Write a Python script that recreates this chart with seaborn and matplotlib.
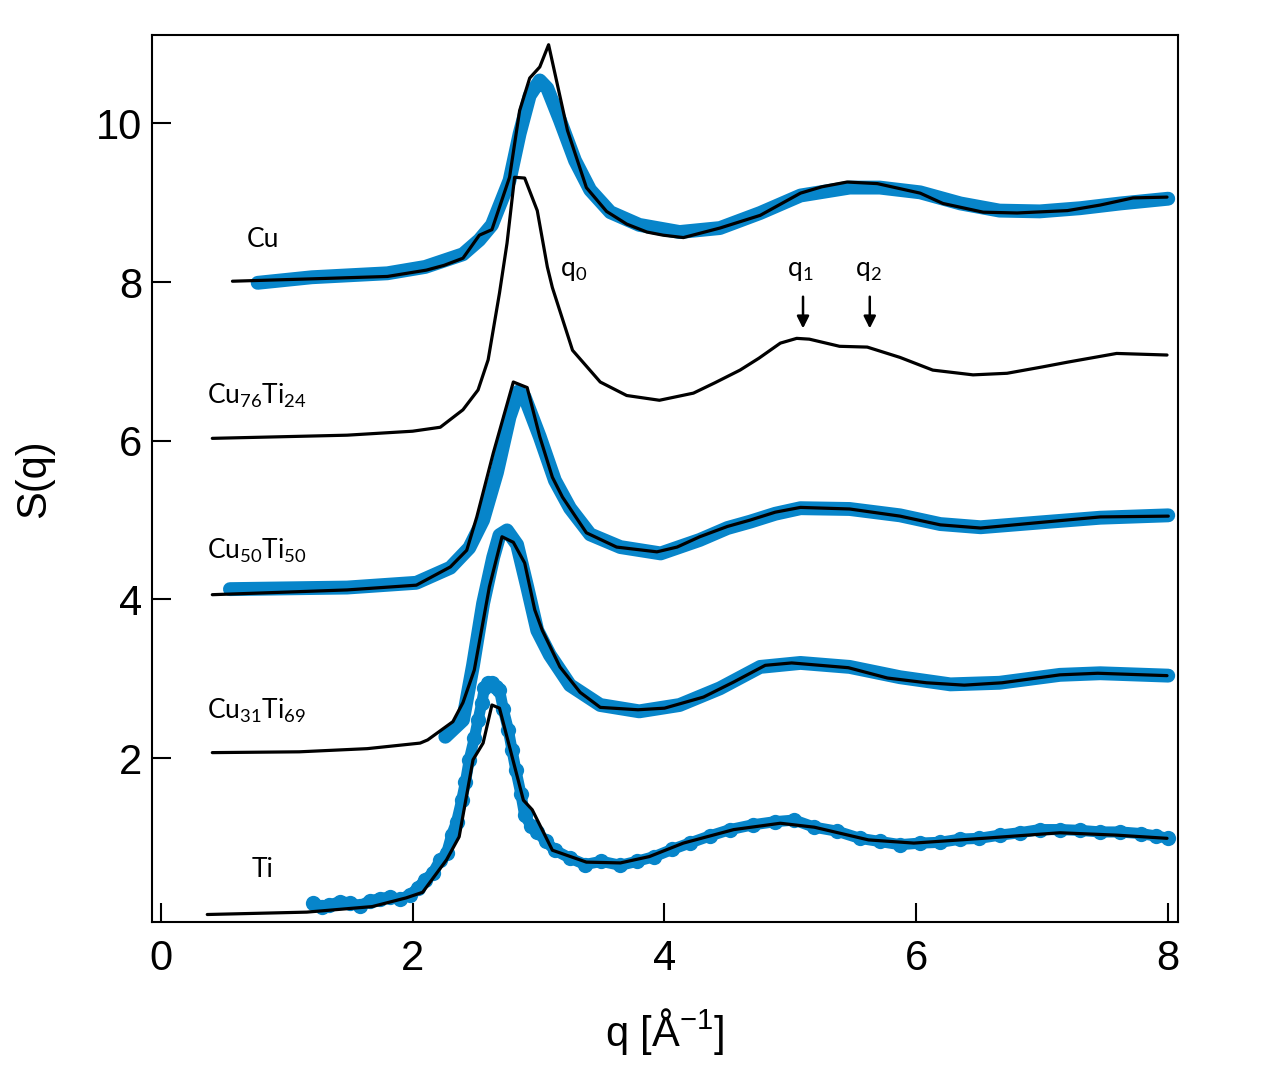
import numpy as np
import pandas as pd
import seaborn as sns
import matplotlib.pyplot as plt

# ---- model curves (black lines) ----
cu_fit_q = [0.57, 1.20, 1.80, 2.11, 2.25, 2.40, 2.53, 2.63, 2.77, 2.85, 2.93, 3.01, 3.08, 3.23, 3.38, 3.54,
            3.70, 3.86, 3.99, 4.15, 4.44, 4.76, 5.08, 5.25, 5.45, 5.69, 6.03, 6.21, 6.53, 6.80, 7.20,
            7.46, 7.72, 7.99]
cu_fit_s = [8.01, 8.04, 8.07, 8.15, 8.21, 8.30, 8.59, 8.66, 9.32, 10.16, 10.57, 10.71, 10.99, 9.91, 9.19,
            8.89, 8.73, 8.63, 8.59, 8.56, 8.68, 8.84, 9.12, 9.20, 9.26, 9.24, 9.12, 8.99, 8.88, 8.87,
            8.90, 8.97, 9.06, 9.07]

cu76_fit_q = [0.41, 0.95, 1.48, 2.00, 2.22, 2.40, 2.52, 2.60, 2.69, 2.75, 2.81, 2.89, 2.99, 3.07, 3.11,
              3.27, 3.49, 3.70, 3.96, 4.23, 4.40, 4.60, 4.75, 4.92, 5.05, 5.15, 5.39, 5.61, 5.87, 6.13,
              6.45, 6.72, 7.00, 7.20, 7.59, 7.99]
cu76_fit_s = [6.03, 6.05, 6.07, 6.12, 6.17, 6.39, 6.64, 7.02, 7.86, 8.49, 9.32, 9.31, 8.90, 8.19, 7.93,
              7.14, 6.74, 6.57, 6.51, 6.60, 6.73, 6.89, 7.04, 7.23, 7.29, 7.28, 7.19, 7.18, 7.05, 6.89,
              6.83, 6.85, 6.93, 6.99, 7.10, 7.08]

cu50_fit_q = [0.41, 0.95, 1.48, 2.03, 2.30, 2.43, 2.51, 2.64, 2.80, 2.91, 3.01, 3.11, 3.19, 3.38, 3.62,
              3.94, 4.10, 4.28, 4.50, 4.68, 4.88, 5.08, 5.47, 5.87, 6.19, 6.51, 6.98, 7.46, 8.00]
cu50_fit_s = [4.06, 4.09, 4.12, 4.18, 4.41, 4.62, 5.04, 5.84, 6.74, 6.67, 6.05, 5.54, 5.29, 4.84, 4.66,
              4.60, 4.66, 4.79, 4.92, 5.00, 5.10, 5.16, 5.14, 5.05, 4.94, 4.90, 4.97, 5.04, 5.05]

cu31_fit_q = [0.41, 1.10, 1.64, 2.06, 2.12, 2.32, 2.40, 2.49, 2.61, 2.71, 2.80, 2.89, 2.97, 3.03, 3.17,
              3.33, 3.49, 3.79, 4.00, 4.31, 4.55, 4.80, 5.01, 5.46, 5.77, 6.08, 6.38, 6.68, 7.14, 7.44, 7.99]
cu31_fit_s = [2.07, 2.08, 2.12, 2.19, 2.23, 2.46, 2.70, 3.11, 4.16, 4.79, 4.72, 4.46, 3.87, 3.61, 3.15,
              2.83, 2.64, 2.61, 2.63, 2.77, 2.96, 3.17, 3.20, 3.14, 3.01, 2.95, 2.92, 2.95, 3.05, 3.07, 3.04]

ti_fit_q = [0.37, 1.16, 1.68, 1.95, 2.08, 2.27, 2.37, 2.48, 2.56, 2.63, 2.69, 2.88, 2.95, 3.11, 3.38,
            3.65, 3.88, 4.15, 4.55, 4.92, 5.19, 5.62, 5.98, 6.53, 7.14, 7.59, 7.99]
ti_fit_s = [0.03, 0.06, 0.13, 0.24, 0.31, 0.72, 1.01, 1.98, 2.19, 2.67, 2.63, 1.47, 1.35, 0.84, 0.69,
            0.68, 0.76, 0.93, 1.10, 1.18, 1.13, 0.97, 0.93, 0.99, 1.06, 1.03, 0.99]

# ---- measured data (blue) ----
cu_exp_q = [0.77, 1.20, 1.80, 2.10, 2.40, 2.53, 2.63, 2.77, 2.85, 2.93, 3.01, 3.07, 3.17, 3.29, 3.41,
            3.57, 3.80, 4.12, 4.44, 4.76, 5.08, 5.47, 5.71, 6.03, 6.35, 6.66, 6.98, 7.30, 7.62, 8.00]
cu_exp_s = [7.99, 8.06, 8.11, 8.19, 8.35, 8.53, 8.72, 9.28, 9.87, 10.35, 10.54, 10.44, 10.04, 9.53, 9.16,
            8.88, 8.72, 8.63, 8.68, 8.87, 9.09, 9.19, 9.19, 9.13, 8.99, 8.90, 8.89, 8.93, 8.99, 9.05]

cu50_exp_q = [0.55, 1.48, 2.03, 2.30, 2.45, 2.56, 2.67, 2.77, 2.84, 2.89, 3.01, 3.13, 3.25, 3.41, 3.65,
              3.97, 4.28, 4.50, 4.68, 4.88, 5.08, 5.47, 5.87, 6.19, 6.51, 6.98, 7.46, 8.00]
cu50_exp_s = [4.13, 4.15, 4.21, 4.40, 4.65, 5.00, 5.60, 6.30, 6.62, 6.55, 6.05, 5.50, 5.15, 4.82, 4.66,
              4.58, 4.75, 4.90, 4.98, 5.08, 5.15, 5.14, 5.06, 4.95, 4.91, 4.97, 5.03, 5.06]

cu31_exp_q = [2.26, 2.40, 2.48, 2.56, 2.64, 2.69, 2.75, 2.83, 2.91, 2.99, 3.09, 3.25, 3.49, 3.80, 4.12,
              4.44, 4.76, 5.08, 5.47, 5.87, 6.27, 6.66, 7.14, 7.46, 8.00]
cu31_exp_s = [2.27, 2.48, 3.17, 3.95, 4.53, 4.81, 4.87, 4.69, 4.16, 3.61, 3.30, 2.92, 2.67, 2.59, 2.67,
              2.88, 3.15, 3.20, 3.15, 3.02, 2.93, 2.95, 3.05, 3.07, 3.04]

ti_exp_q = [1.21, 1.28, 1.34, 1.42, 1.50, 1.58, 1.66, 1.74, 1.82, 1.90, 1.98, 2.04, 2.10, 2.16, 2.22,
            2.27, 2.31, 2.35, 2.39, 2.42, 2.45, 2.49, 2.52, 2.55, 2.57, 2.60, 2.63, 2.66, 2.69, 2.72,
            2.76, 2.79, 2.82, 2.86, 2.89, 2.94, 2.99, 3.06, 3.13, 3.25, 3.37, 3.50, 3.65, 3.78, 3.92,
            4.06, 4.20, 4.36, 4.52, 4.70, 4.88, 5.03, 5.19, 5.37, 5.55, 5.71, 5.87, 6.03, 6.19, 6.35,
            6.50, 6.66, 6.82, 6.98, 7.14, 7.30, 7.46, 7.62, 7.78, 7.90, 8.00]
ti_exp_s = [0.18, 0.13, 0.15, 0.19, 0.18, 0.14, 0.20, 0.23, 0.25, 0.22, 0.28, 0.36, 0.47, 0.55, 0.72,
            0.80, 1.03, 1.20, 1.47, 1.70, 1.98, 2.25, 2.48, 2.70, 2.88, 2.95, 2.95, 2.90, 2.86, 2.62,
            2.36, 2.10, 1.85, 1.55, 1.28, 1.15, 1.07, 0.95, 0.84, 0.74, 0.66, 0.70, 0.65, 0.70, 0.76,
            0.85, 0.93, 1.02, 1.10, 1.16, 1.20, 1.22, 1.13, 1.08, 0.99, 0.95, 0.91, 0.93, 0.94, 0.98,
            0.99, 1.03, 1.06, 1.10, 1.10, 1.09, 1.07, 1.07, 1.05, 1.02, 0.99]

labels = ['Cu', r'Cu$_{76}$Ti$_{24}$', r'Cu$_{50}$Ti$_{50}$', r'Cu$_{31}$Ti$_{69}$', 'Ti']
label_pos = [(0.81, 8.54, 'center'), (0.365, 6.57, 'left'), (0.365, 4.61, 'left'),
             (0.365, 2.6, 'left'), (0.81, 0.6, 'center')]

blue = '#0785CA'

sns.set_theme(style='white')
plt.rcParams['font.family'] = ['Liberation Sans', 'DejaVu Sans']
plt.rcParams['mathtext.fontset'] = 'custom'
plt.rcParams['mathtext.rm'] = 'Lato'
plt.rcParams['text.color'] = 'black'
plt.rcParams['axes.labelcolor'] = 'black'

f = plt.figure(figsize=(12.75, 10.67), dpi=100)
ax = f.add_axes([0.119, 0.136, 0.805, 0.831])

for q, s in [(cu_exp_q, cu_exp_s), (cu50_exp_q, cu50_exp_s), (cu31_exp_q, cu31_exp_s)]:
    sns.lineplot(x=q, y=s, ax=ax, color=blue, linewidth=10, sort=False, estimator=None,
                 solid_capstyle='round', solid_joinstyle='round')
sns.lineplot(x=ti_exp_q, y=ti_exp_s, ax=ax, color=blue, linewidth=8, sort=False, estimator=None,
             marker='o', markersize=11, markeredgewidth=0, solid_capstyle='round',
             solid_joinstyle='round')

for q, s in [(cu_fit_q, cu_fit_s), (cu76_fit_q, cu76_fit_s), (cu50_fit_q, cu50_fit_s),
             (cu31_fit_q, cu31_fit_s), (ti_fit_q, ti_fit_s)]:
    sns.lineplot(x=q, y=s, ax=ax, color='black', linewidth=2.3, sort=False, estimator=None,
                 solid_joinstyle='round')

for lab, (x, y, ha) in zip(labels, label_pos):
    ax.text(x, y, lab, ha=ha, va='center', fontsize=19, family='Lato')

ax.text(3.17, 8.15, r'q$_0$', ha='left', va='center', fontsize=19, family='Lato')
ax.text(5.08, 8.15, r'q$_1$', ha='center', va='center', fontsize=19, family='Lato')
ax.text(5.62, 8.15, r'q$_2$', ha='center', va='center', fontsize=19, family='Lato')
for xq in [5.10, 5.63]:
    ax.annotate('', xy=(xq, 7.38), xytext=(xq, 7.85),
                arrowprops=dict(arrowstyle='-|>', color='black', lw=1.8, mutation_scale=18))

ax.set_xlim(-0.071, 8.078)
ax.set_ylim(-0.063, 11.11)
ax.set_xticks([0, 2, 4, 6, 8])
ax.set_yticks([2, 4, 6, 8, 10])
ax.tick_params(direction='in', length=14, width=1.5, labelsize=30, color='black',
               labelcolor='black', bottom=True, left=True)
ax.tick_params(axis='x', pad=12)
ax.tick_params(axis='y', pad=7)
for sp in ax.spines.values():
    sp.set_color('black')
    sp.set_linewidth(1.5)
ax.set_xlabel('q [Å$^{\\mathregular{-1}}$]', fontsize=30, labelpad=20)
ax.set_ylabel('S(q)', fontsize=30, labelpad=30)

f.savefig('out.png', dpi=100)
